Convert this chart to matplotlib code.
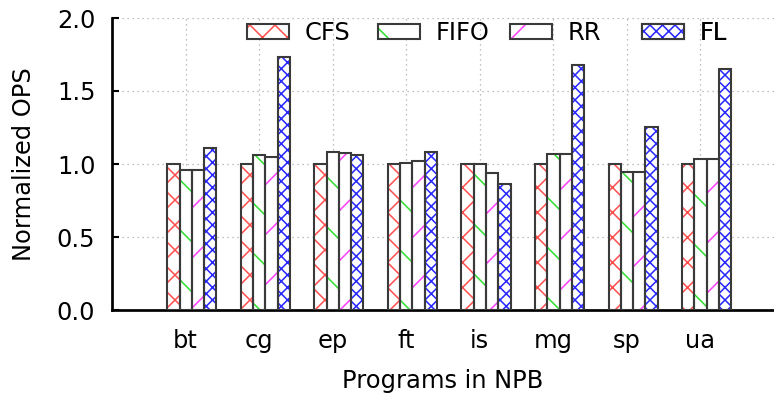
import matplotlib
matplotlib.use("Agg")
import matplotlib.pyplot as plt
from matplotlib.patches import Patch
from matplotlib.legend_handler import HandlerTuple
import numpy as np

programs = ["bt", "cg", "ep", "ft", "is", "mg", "sp", "ua"]
series = ["CFS", "FIFO", "RR", "FL"]
cfs = [1.00, 1.00, 1.00, 1.00, 1.00, 1.00, 1.00, 1.00]
fifo = [0.96, 1.06, 1.08, 1.005, 1.00, 1.066, 0.945, 1.036]
rr = [0.96, 1.05, 1.075, 1.02, 0.935, 1.066, 0.945, 1.036]
fl = [1.11, 1.735, 1.06, 1.085, 0.865, 1.68, 1.255, 1.65]
yticks = [0.0, 0.5, 1.0, 1.5, 2.0]

values = [cfs, fifo, rr, fl]
hatch_colors = ["#ff5050", "#30e030", "#ff40ff", "#2828ff"]
hatches = ["xx", "\\", "/", "xxxx"]

DPI = 150
fig = plt.figure(figsize=(774 / DPI, 393 / DPI), dpi=DPI)
ax = fig.add_axes([112 / 774, 1 - 310 / 393, 1 - 112 / 774, (310 - 18) / 393])
plt.rcParams["hatch.linewidth"] = 0.75
FS = 11.6

x = np.arange(len(programs))
w = 0.167
off = 0.085
edge = "#3a3a3a"
handles = []
for i, (vals, hc, h) in enumerate(zip(values, hatch_colors, hatches)):
    pos = x + off + (i - 1.5) * w
    ax.bar(pos, vals, w, color="white", edgecolor=hc, hatch=h, linewidth=0, zorder=2)
    ax.bar(pos, vals, w, facecolor="none", edgecolor=edge, linewidth=1.0, zorder=3)
    handles.append((Patch(facecolor="white", edgecolor=hc, hatch=h, linewidth=0),
                    Patch(facecolor="none", edgecolor=edge, linewidth=1.0)))

ax.set_xlim(-1, 8)
ax.set_ylim(0, 2.0)
ax.set_yticks(yticks)
ax.set_yticklabels([f"{v:.1f}" for v in yticks], fontsize=FS)
ax.set_xticks(x)
ax.set_xticklabels(programs, fontsize=FS)
ax.tick_params(axis="y", direction="in", length=3.5, width=1.0, pad=8)
ax.tick_params(axis="x", length=0, pad=9)
ax.grid(True, linestyle=(0, (1, 3)), color="#aaaaaa", linewidth=0.6, zorder=0)
ax.set_axisbelow(True)
for s in ["top", "right"]:
    ax.spines[s].set_visible(False)
ax.spines["left"].set_linewidth(1.3)
ax.spines["bottom"].set_linewidth(1.3)
ax.set_ylabel("Normalized OPS", fontsize=FS, labelpad=10)
ax.set_xlabel("Programs in NPB", fontsize=FS, labelpad=8)

legend_x = [247, 378, 510, 642]
for hnd, lab, px in zip(handles, series, legend_x):
    lg = ax.legend([hnd], [lab], loc="center left",
                   bbox_to_anchor=((px - 112) / 662, (310 - 33) / 292),
                   frameon=False, fontsize=FS, borderpad=0, borderaxespad=0,
                   handlelength=42 / 24.2, handleheight=14 / 24.2, handletextpad=16 / 24.2,
                   handler_map={tuple: HandlerTuple(ndivide=1)})
    ax.add_artist(lg)

fig.savefig("out.png", dpi=DPI)
